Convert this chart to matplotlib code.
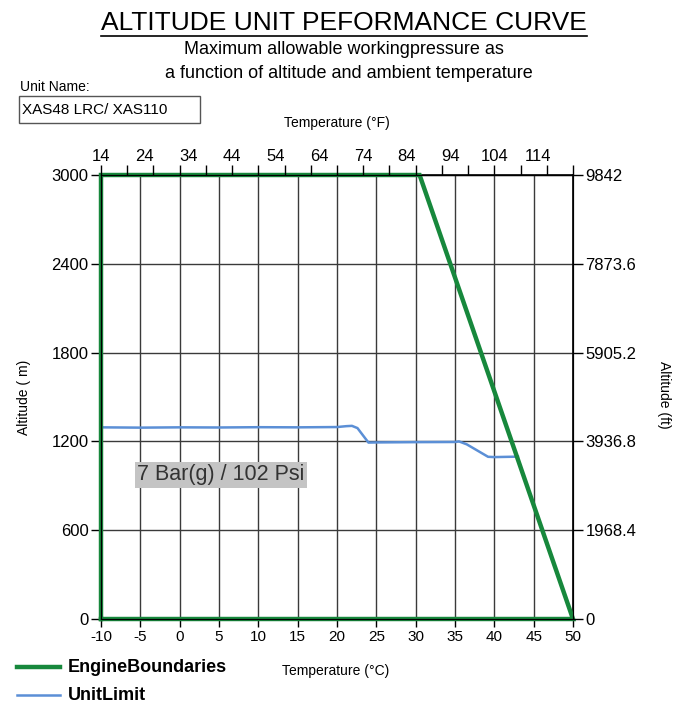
import numpy as np
import matplotlib
matplotlib.use("Agg")
import matplotlib.pyplot as plt
from matplotlib.lines import Line2D
from matplotlib.patches import Rectangle

plt.rcParams["font.family"] = ["Liberation Sans", "DejaVu Sans"]
plt.rcParams["axes.unicode_minus"] = False

# --- data ---
celsius_ticks = [-10, -5, 0, 5, 10, 15, 20, 25, 30, 35, 40, 45, 50]
fahrenheit_labels = [14, 24, 34, 44, 54, 64, 74, 84, 94, 104, 114]
fahrenheit_minor = [14, 20, 26, 32, 38, 44, 50, 56, 62, 68, 74, 80, 86, 92, 98, 104, 110, 116, 122]
altitude_m_ticks = [0, 600, 1200, 1800, 2400, 3000]
altitude_ft_ticks = [0, 1968.4, 3936.8, 5905.2, 7873.6, 9842]
altitude_ft_labels = ["0", "1968.4", "3936.8", "5905.2", "7873.6", "9842"]

engine_temp = [-10, -10, 30.5, 50, -10]
engine_alt = [0, 3000, 3000, 0, 0]

unit_temp = [-10, -5, 0, 5, 10, 15, 20, 21.2, 21.9, 22.6, 24.0, 25.0, 30, 35.0, 35.5, 36.5, 39.2, 40.0, 43.0]
unit_alt = [1295, 1293, 1295, 1294, 1296, 1295, 1297, 1303, 1305, 1290, 1192, 1193, 1195, 1196, 1200, 1180, 1096, 1094, 1097]

label_text = "7 Bar(g) / 102 Psi"
label_pos = (5.25, 975)

green = "#17883c"
blue = "#5b8fd6"

fig = plt.figure(figsize=(6.75, 7.04), dpi=100)
ax = fig.add_axes([101 / 675, 1 - 619 / 704, 472 / 675, 444 / 704])

ax.set_xlim(-10, 50)
ax.set_ylim(0, 3000)
ax.set_xticks(celsius_ticks)
ax.set_yticks(altitude_m_ticks)
ax.tick_params(axis="x", labelsize=11, length=6, width=1, pad=2)
ax.tick_params(axis="y", labelsize=12, length=7, width=1, pad=2)
ax.grid(True, color="#3a3a3a", lw=1)
ax.set_axisbelow(True)
for s in ax.spines.values():
    s.set_color("black")
    s.set_linewidth(1.2)

ax.plot(engine_temp, engine_alt, color=green, lw=3.2, clip_on=False, zorder=5,
        solid_joinstyle="miter")
ax.plot(unit_temp, unit_alt, color=blue, lw=1.8, zorder=4)

ax.text(label_pos[0], label_pos[1], label_text, ha="center", va="center", fontsize=15.5,
        color="#333333", zorder=6,
        bbox=dict(boxstyle="square,pad=0.12", facecolor="#c4c4c4", edgecolor="none"))

# right axis in feet
axr = ax.twinx()
axr.set_ylim(0, 9842)
axr.set_yticks(altitude_ft_ticks)
axr.set_yticklabels(altitude_ft_labels)
axr.tick_params(axis="y", labelsize=12, length=7, width=1, pad=2)
axr.spines["right"].set_color("#444444")
fig.text(664 / 675, 1 - 395 / 704, "Altitude (ft)", rotation=270, ha="center", va="center",
         fontsize=10)

# top axis in Fahrenheit
axt = ax.twiny()
axt.set_xlim(14, 122)
axt.set_xticks(fahrenheit_labels)
axt.set_xticks(fahrenheit_minor, minor=True)
axt.xaxis.remove_overlapping_locs = False
axt.tick_params(axis="x", which="major", length=0, labelsize=12, pad=8)
axt.tick_params(axis="x", which="minor", length=7, width=1)
axt.set_xlabel("Temperature (°F)", fontsize=10, labelpad=16)

ax.set_ylabel("Altitude ( m)", fontsize=10, labelpad=15)

fig.text(336 / 675, 1 - 671 / 704, "Temperature (°C)", ha="center", va="center", fontsize=10)

# titles
title = fig.text(344 / 675, 1 - 23 / 704, "ALTITUDE UNIT PEFORMANCE CURVE", ha="center",
                 va="center", fontsize=19)
fig.text(344 / 675, 1 - 50 / 704, "Maximum allowable workingpressure as", ha="center",
         va="center", fontsize=13)
fig.text(349 / 675, 1 - 73 / 704, "a function of altitude and ambient temperature", ha="center",
         va="center", fontsize=13)

# unit name box
fig.text(20 / 675, 1 - 87 / 704, "Unit Name:", ha="left", va="center", fontsize=10)
fig.add_artist(Rectangle((19 / 675, 1 - 123 / 704), 181 / 675, 27 / 704, transform=fig.transFigure,
                         facecolor="white", edgecolor="#555555", lw=1))
fig.text(22 / 675, 1 - 110 / 704, "XAS48 LRC/ XAS110", ha="left", va="center", fontsize=11)

# legend
fig.add_artist(Line2D([17 / 675, 60 / 675], [1 - 667 / 704] * 2, color=green, lw=3.2))
fig.text(68 / 675, 1 - 667 / 704, "EngineBoundaries", ha="left", va="center", fontsize=13,
         fontweight="bold")
fig.add_artist(Line2D([17 / 675, 60 / 675], [1 - 695 / 704] * 2, color=blue, lw=1.8))
fig.text(68 / 675, 1 - 695 / 704, "UnitLimit", ha="left", va="center", fontsize=13,
         fontweight="bold")

# underline the title
fig.canvas.draw()
bb = title.get_window_extent().transformed(fig.transFigure.inverted())
fig.add_artist(Line2D([bb.x0, bb.x1], [bb.y0 - 0.002] * 2, color="black", lw=1.2))

fig.savefig("out.png", dpi=100)
